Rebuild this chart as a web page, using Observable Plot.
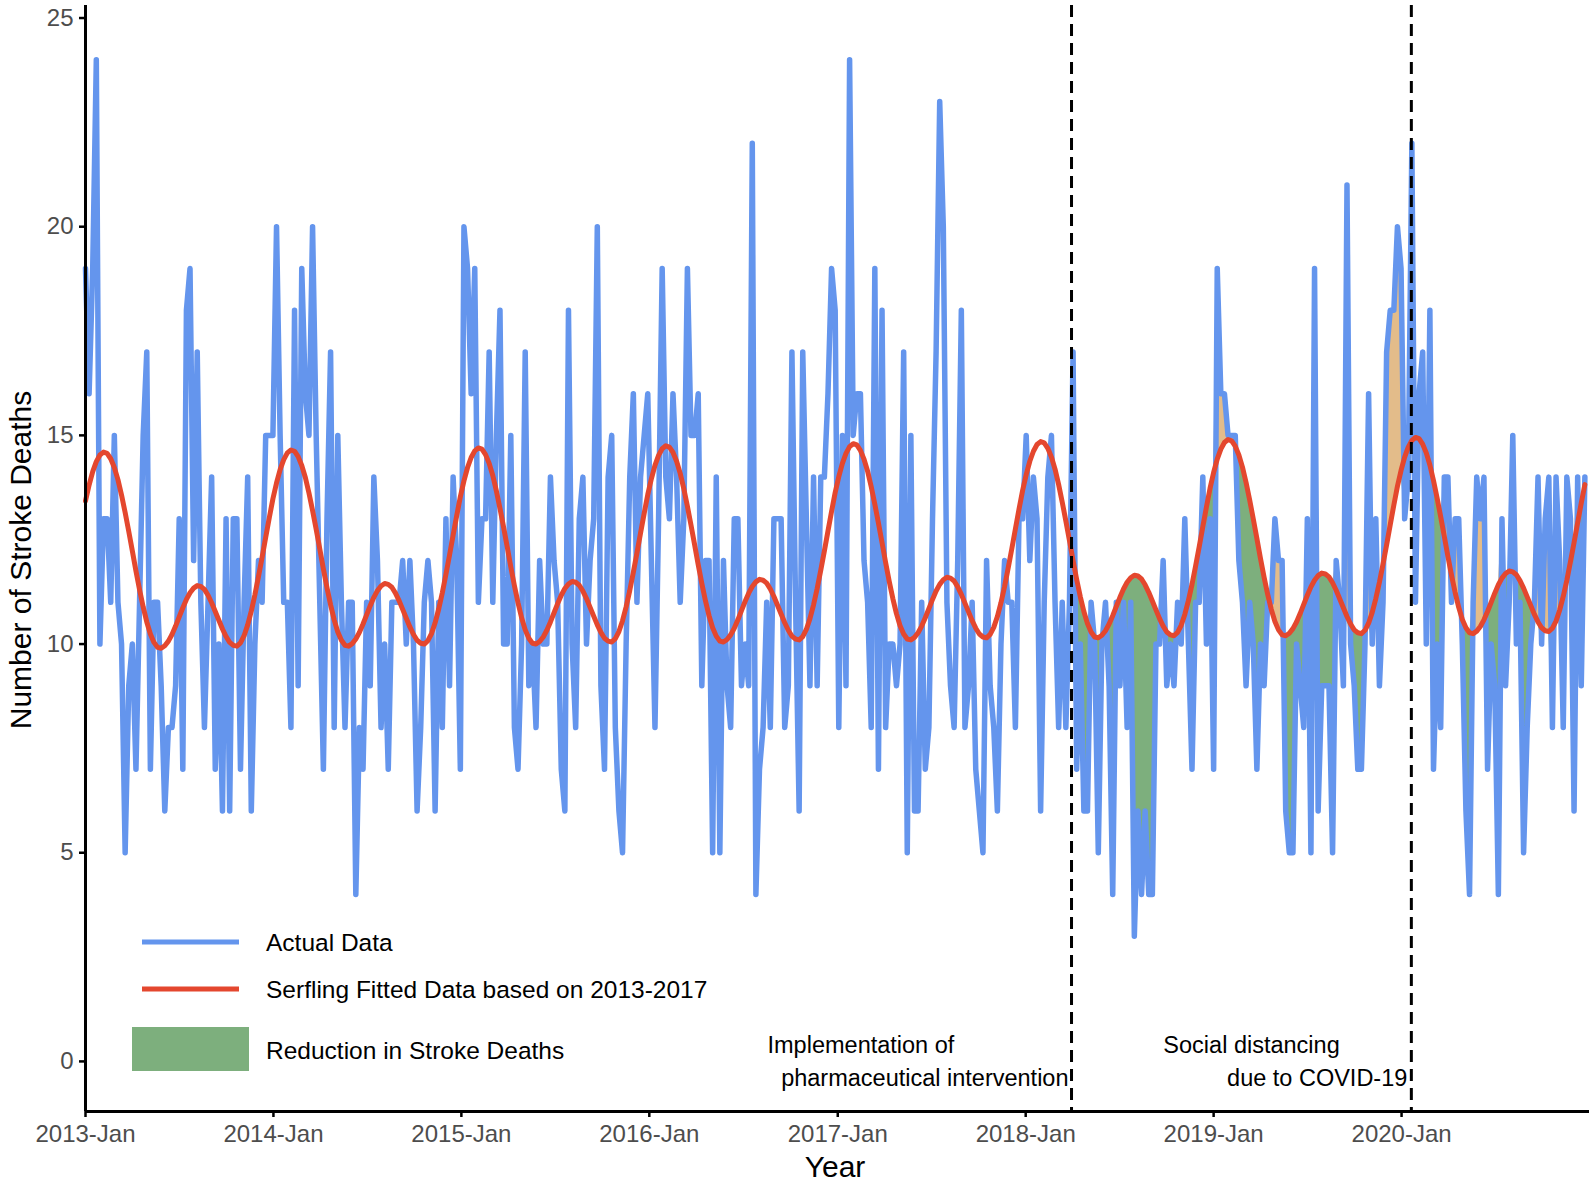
<!DOCTYPE html>
<html>
<head>
<meta charset="utf-8">
<script src="https://cdn.jsdelivr.net/npm/d3@7"></script>
<script src="https://cdn.jsdelivr.net/npm/@observablehq/plot@0.6"></script>
<style>
  html, body { margin: 0; padding: 0; background: #fff; }
  #chart svg { display: block; }
</style>
</head>
<body>
<div id="chart"></div>
<script>
// ---------- DATA (weekly stroke deaths, first week starting 2013-01-01) ----------
const startDate = "2013-01-01";
const actual2013 = [19,16,19,24,10,13,13,11,15,11,10,5,9,10,7,11,15,17,7,11,11,9,6,8,8,9,13,7,18,19,12,17,11,8,11,14,7,10,6,13,6,13,13,7,11,14,6,10,12,11,15,15];
const actual2014 = [15,20,15,11,11,8,18,9,19,16,15,20,15,11,7,13,17,8,15,11,8,11,11,4,8,7,11,9,14,12,8,10,7,11,11,11,12,10,12,10,6,8,11,12,11,6,11,8,13,9,14,12];
const actual2015 = [7,20,19,16,19,11,13,13,17,11,15,18,10,10,15,8,7,10,17,9,10,8,12,10,10,14,12,11,7,6,18,10,8,13,14,10,12,13,20,9,7,14,15,8,6,5,10,14,16,11,14,15];
const actual2016 = [16,12,8,13,19,14,13,16,14,11,13,19,15,15,16,9,12,12,5,14,5,12,9,8,13,13,9,10,9,22,4,7,8,11,8,13,13,13,8,9,17,11,6,17,13,9,14,9,14,14,16,19];
const actual2017 = [18,8,15,9,24,15,16,16,12,11,8,19,7,18,8,10,10,9,10,17,5,15,6,6,11,7,8,13,17,23,20,11,9,8,12,18,8,9,11,7,6,5,12,9,8,6,10,12,11,11,8,13];
const actual2018 = [13,15,12,14,13,6,11,14,15,11,8,11,8,11,17,7,10,6,6,11,10,5,10,11,9,4,11,9,11,8,11,3,6,4,6,4,4,10,10,12,9,10,9,11,10,13,10,7,11,11,14,10];
const actual2019 = [13,7,19,16,16,15,15,15,12,11,9,11,10,7,10,9,11,11,13,12,12,6,5,5,10,9,8,13,5,19,6,9,9,9,5,12,11,9,21,10,9,7,7,10,16,10,13,9,11,17,18,18];
const actual2020 = [20,19,13,14,22,11,16,17,10,18,7,10,8,14,14,11,13,13,10,6,4,11,14,13,14,7,10,9,4,13,9,11,15,10,11,5,8,10,11,14,10,13,14,8,14,12,8,14,13,6,14,9,14];

const fitted2013 = [13.43,13.81,14.13,14.37,14.53,14.60,14.57,14.44,14.23,13.94,13.57,13.15,12.70,12.23,11.75,11.30,10.89,10.53,10.24,10.04,9.92,9.90,9.96,10.07,10.23,10.43,10.65,10.87,11.07,11.23,11.34,11.40,11.38,11.31,11.17,10.99,10.78,10.57,10.36,10.18,10.04,9.97,9.95,10.03,10.20,10.46,10.79,11.18,11.62,12.08,12.56,13.03];
const fitted2014 = [13.48,13.86,14.18,14.42,14.58,14.65,14.62,14.49,14.28,13.99,13.62,13.20,12.75,12.28,11.80,11.35,10.94,10.58,10.29,10.09,9.97,9.95,10.01,10.12,10.28,10.48,10.70,10.92,11.12,11.28,11.39,11.45,11.43,11.36,11.22,11.04,10.83,10.62,10.41,10.23,10.09,10.02,10.00,10.08,10.25,10.51,10.84,11.23,11.67,12.13,12.61,13.08];
const fitted2015 = [13.53,13.91,14.23,14.47,14.63,14.70,14.67,14.54,14.33,14.04,13.67,13.25,12.80,12.33,11.85,11.40,10.99,10.63,10.34,10.14,10.02,10.00,10.06,10.17,10.33,10.53,10.75,10.97,11.17,11.33,11.44,11.50,11.48,11.41,11.27,11.09,10.88,10.67,10.46,10.28,10.14,10.07,10.05,10.13,10.30,10.56,10.89,11.28,11.72,12.18,12.66,13.13];
const fitted2016 = [13.58,13.96,14.28,14.52,14.68,14.75,14.72,14.59,14.38,14.09,13.72,13.30,12.85,12.38,11.90,11.45,11.04,10.68,10.39,10.19,10.07,10.05,10.11,10.22,10.38,10.58,10.80,11.02,11.22,11.38,11.49,11.55,11.53,11.46,11.32,11.14,10.93,10.72,10.51,10.33,10.19,10.12,10.10,10.18,10.35,10.61,10.94,11.33,11.77,12.23,12.71,13.18];
const fitted2017 = [13.63,14.01,14.33,14.57,14.73,14.80,14.77,14.64,14.43,14.14,13.77,13.35,12.90,12.43,11.95,11.50,11.09,10.73,10.44,10.24,10.12,10.10,10.16,10.27,10.43,10.63,10.85,11.07,11.27,11.43,11.54,11.60,11.58,11.51,11.37,11.19,10.98,10.77,10.56,10.38,10.24,10.17,10.15,10.23,10.40,10.66,10.99,11.38,11.82,12.28,12.76,13.23];
const fitted2018 = [13.68,14.06,14.38,14.62,14.78,14.85,14.82,14.69,14.48,14.19,13.82,13.40,12.95,12.48,12.00,11.55,11.14,10.78,10.49,10.29,10.17,10.15,10.21,10.32,10.48,10.68,10.90,11.12,11.32,11.48,11.59,11.65,11.63,11.56,11.42,11.24,11.03,10.82,10.61,10.43,10.29,10.22,10.20,10.28,10.45,10.71,11.04,11.43,11.87,12.33,12.81,13.28];
const fitted2019 = [13.73,14.11,14.43,14.67,14.83,14.90,14.87,14.74,14.53,14.24,13.87,13.45,13.00,12.53,12.05,11.60,11.19,10.83,10.54,10.34,10.22,10.20,10.26,10.37,10.53,10.73,10.95,11.17,11.37,11.53,11.64,11.70,11.68,11.61,11.47,11.29,11.08,10.87,10.66,10.48,10.34,10.27,10.25,10.33,10.50,10.76,11.09,11.48,11.92,12.38,12.86,13.33];
const fitted2020 = [13.78,14.16,14.48,14.72,14.88,14.95,14.92,14.79,14.58,14.29,13.92,13.50,13.05,12.58,12.10,11.65,11.24,10.88,10.59,10.39,10.27,10.25,10.31,10.42,10.58,10.78,11.00,11.22,11.42,11.58,11.69,11.75,11.73,11.66,11.52,11.34,11.13,10.92,10.71,10.53,10.39,10.32,10.30,10.38,10.55,10.81,11.14,11.53,11.97,12.43,12.91,13.38,13.82];

const eventDates = ["2018-03-31", "2020-01-20"];
const eventLabels = [
  ["Implementation of", "pharmaceutical intervention"],
  ["Social distancing", "due to COVID-19"]
];
const tickYears = [2013, 2014, 2015, 2016, 2017, 2018, 2019, 2020];
const yTicks = [0, 5, 10, 15, 20, 25];
const legendLabels = ["Actual Data", "Serfling Fitted Data based on 2013-2017", "Reduction in Stroke Deaths"];
const axisTitles = {x: "Year", y: "Number of Stroke Deaths"};

// ---------- FONT CHOICE (use a narrow sans if installed, as in the reference) ----------
function hasFont(name) {
  const c = document.createElement("canvas").getContext("2d");
  const s = "Serfling Fitted Data based on 2013-2017";
  c.font = "40px monospace";
  const w1 = c.measureText(s).width;
  c.font = `40px '${name}', monospace`;
  const w2 = c.measureText(s).width;
  return Math.abs(w1 - w2) > 1;
}
const narrow = hasFont("Liberation Sans Narrow");
const FONT = narrow ? "'Liberation Sans Narrow', 'Liberation Sans', Arial, sans-serif"
                    : "'Liberation Sans', Arial, Helvetica, sans-serif";
const k = narrow ? 1 / 0.82 : 1;
const fsTick = 24 * k, fsLegend = 24.5 * k, fsNote = 23.5 * k, fsTitle = 30 * k;

// ---------- BUILD TABLE ----------
const actual = [].concat(actual2013, actual2014, actual2015, actual2016, actual2017, actual2018, actual2019, actual2020);
const fitted = [].concat(fitted2013, fitted2014, fitted2015, fitted2016, fitted2017, fitted2018, fitted2019, fitted2020);
const t0 = new Date(startDate + "T00:00:00Z").getTime();
const rows = actual.map((v, i) => ({date: new Date(t0 + i * 7 * 864e5), actual: v, fit: fitted[i]}));
const events = eventDates.map(d => new Date(d + "T00:00:00Z"));
const post = rows.filter(d => d.date >= events[0]);
const xTicks = tickYears.map(y => new Date(Date.UTC(y, 0, 1)));

const BLUE = "#6495ED", RED = "#E4472E", GREEN = "#7DAF7D", TAN = "#E3BC8A";
const yDomain = [-1.2, 25.3];

const chart = Plot.plot({
  width: 1595,
  height: 1185,
  marginLeft: 85,
  marginRight: 6,
  marginTop: 5,
  marginBottom: 74,
  style: {fontFamily: FONT, fontSize: fsTick + "px", background: "white", color: "black"},
  x: {type: "utc", domain: [new Date("2013-01-01T00:00:00Z"), new Date("2020-12-31T00:00:00Z")], label: null},
  y: {domain: yDomain, label: null},
  marks: [
    Plot.areaY(post, {x: "date", y1: "fit", y2: d => Math.min(d.actual, d.fit), fill: GREEN}),
    Plot.areaY(post, {x: "date", y1: "fit", y2: d => Math.max(d.actual, d.fit), fill: TAN}),
    Plot.line(rows, {x: "date", y: "actual", stroke: BLUE, strokeWidth: 5.5}),
    Plot.line(rows, {x: "date", y: "fit", stroke: RED, strokeWidth: 5}),
    Plot.ruleX(events, {stroke: "black", strokeWidth: 3, strokeDasharray: "12,7"}),
    Plot.ruleY([yDomain[0]], {stroke: "black", strokeWidth: 3}),
    Plot.ruleX([xTicks[0]], {stroke: "black", strokeWidth: 3}),
    Plot.axisX({ticks: xTicks, tickFormat: d => d.getUTCFullYear() + "-Jan", tickSize: 6, tickPadding: 7,
      stroke: "black", strokeWidth: 2.5, fill: "#4d4d4d", fontSize: fsTick, label: null}),
    Plot.axisY({ticks: yTicks, tickSize: 6, tickPadding: 6,
      stroke: "black", strokeWidth: 2.5, fill: "#4d4d4d", fontSize: fsTick, label: null}),
    Plot.text([eventLabels[0][0]], {x: events[0], y: 0.38, text: d => d, textAnchor: "start", dx: -304, fontSize: fsNote, fill: "black"}),
    Plot.text([eventLabels[0][1]], {x: events[0], y: -0.41, text: d => d, textAnchor: "end", dx: -3, fontSize: fsNote, fill: "black"}),
    Plot.text([eventLabels[1][0]], {x: events[1], y: 0.38, text: d => d, textAnchor: "start", dx: -248, fontSize: fsNote, fill: "black"}),
    Plot.text([eventLabels[1][1]], {x: events[1], y: -0.41, text: d => d, textAnchor: "end", dx: -4, fontSize: fsNote, fill: "black"})
  ]
});

document.getElementById("chart").appendChild(chart);

// ---------- LEGEND AND AXIS TITLES (layout only) ----------
const svg = d3.select(chart);
const lg = svg.append("g").attr("font-family", FONT).attr("font-size", fsLegend)
  .attr("fill", "black").attr("text-anchor", "start");
lg.append("line").attr("x1", 142).attr("x2", 239).attr("y1", 942).attr("y2", 942)
  .attr("stroke", BLUE).attr("stroke-width", 5);
lg.append("line").attr("x1", 142).attr("x2", 239).attr("y1", 989).attr("y2", 989)
  .attr("stroke", RED).attr("stroke-width", 5);
lg.append("rect").attr("x", 132).attr("y", 1027).attr("width", 117).attr("height", 44).attr("fill", GREEN);
[942, 989, 1050].forEach((y, i) => {
  lg.append("text").attr("x", 266).attr("y", y).attr("dy", "0.35em")
    .attr("text-anchor", "start").text(legendLabels[i]);
});

svg.append("text").attr("x", 835).attr("y", 1177).attr("text-anchor", "middle")
  .attr("font-family", FONT).attr("font-size", fsTitle).attr("fill", "black").text(axisTitles.x);
svg.append("text").attr("transform", "translate(31,560) rotate(-90)").attr("text-anchor", "middle")
  .attr("font-family", FONT).attr("font-size", fsTitle).attr("fill", "black").text(axisTitles.y);
</script>
</body>
</html>
